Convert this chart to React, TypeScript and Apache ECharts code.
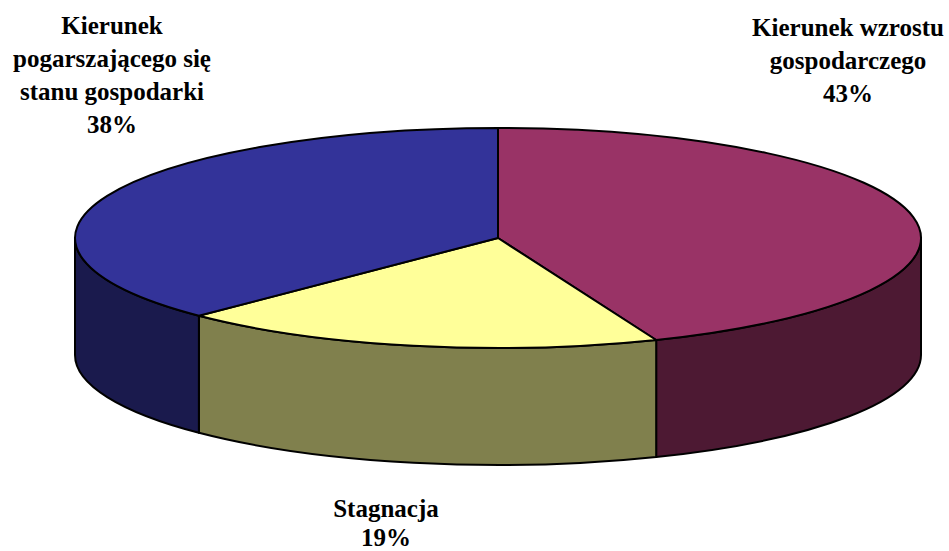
import React, { useEffect, useRef } from "react";
import * as echarts from "echarts";

const categories = ["Kierunek wzrostu\ngospodarczego", "Stagnacja", "Kierunek\npogarszającego się\nstanu gospodarki"];
const percentLabels = ["43%", "19%", "38%"];
// Slice widths as they appear on the tilted disc
const sliceShares = [43.9, 18.6, 37.5];
const topColors = ["#993366", "#FFFF99", "#333399"];
const sideColors = ["#4D1933", "#80804D", "#1A1A4D"];

const CX = 498, CY = 238, RX = 423, RY = 110, DEPTH = 117;
const px = (t: number) => CX + RX * Math.sin(t);
const py = (t: number) => CY - RY * Math.cos(t);
const arc = (t: number, dy: number, sweep: number) => `A${RX} ${RY} 0 0 ${sweep} ${px(t).toFixed(2)} ${(py(t) + dy).toFixed(2)}`;

const total = sliceShares.reduce((a, b) => a + b, 0);
const bounds: number[] = [0];
sliceShares.forEach((v, i) => bounds.push(bounds[i] + (v / total) * Math.PI * 2));

function renderItem(params: any, api: any) {
  const i = params.dataIndex;
  const a = bounds[i], b = bounds[i + 1];
  const lineStyle = { stroke: "#000", lineWidth: 2, lineJoin: "round" };
  const children: any[] = [];
  // Visible wall: the front half of the rim only (t from PI/2 to 3PI/2)
  const s = Math.max(a, Math.PI / 2), e = Math.min(b, (3 * Math.PI) / 2);
  if (e > s) {
    children.push({
      type: "path",
      shape: {
        pathData: `M${px(s)} ${py(s)} ${arc(e, 0, 1)} L${px(e)} ${py(e) + DEPTH} ${arc(s, DEPTH, 0)} Z`,
      },
      style: { fill: sideColors[i], ...lineStyle },
    });
  }
  const large = b - a > Math.PI ? 1 : 0;
  children.push({
    type: "path",
    shape: {
      pathData: `M${CX} ${CY} L${px(a)} ${py(a)} A${RX} ${RY} 0 ${large} 1 ${px(b)} ${py(b)} Z`,
    },
    style: { fill: topColors[i], ...lineStyle },
  });
  return { type: "group", children };
}

const labelCentres = [
  { x: 848, y: 27, step: 33 },
  { x: 386, y: 508, step: 29 },
  { x: 112, y: 25, step: 33 },
];

export default function App() {
  const ref = useRef<HTMLDivElement>(null);
  useEffect(() => {
    const chart = echarts.init(ref.current!, null, { renderer: "svg" });
    const labelLines = categories.flatMap((c, i) =>
      `${c}\n${percentLabels[i]}`.split("\n").map((line, k) => ({
        type: "text",
        x: labelCentres[i].x,
        y: labelCentres[i].y + k * labelCentres[i].step,
        style: {
          text: line,
          fontFamily: "Liberation Serif",
          fontWeight: "bold",
          fontSize: 25,
          lineHeight: 18,
          fill: "#000",
          align: "center",
          verticalAlign: "middle",
        },
      }))
    );
    chart.setOption({
      animation: false,
      backgroundColor: "#fff",
      series: [
        {
          type: "custom",
          coordinateSystem: "none",
          silent: true,
          renderItem,
          data: sliceShares.map((v, i) => ({ name: categories[i], value: v })),
        },
      ],
      graphic: labelLines,
    });
    return () => chart.dispose();
  }, []);
  return <div ref={ref} style={{ position: "fixed", left: 0, top: 0, width: 949, height: 551 }} />;
}
